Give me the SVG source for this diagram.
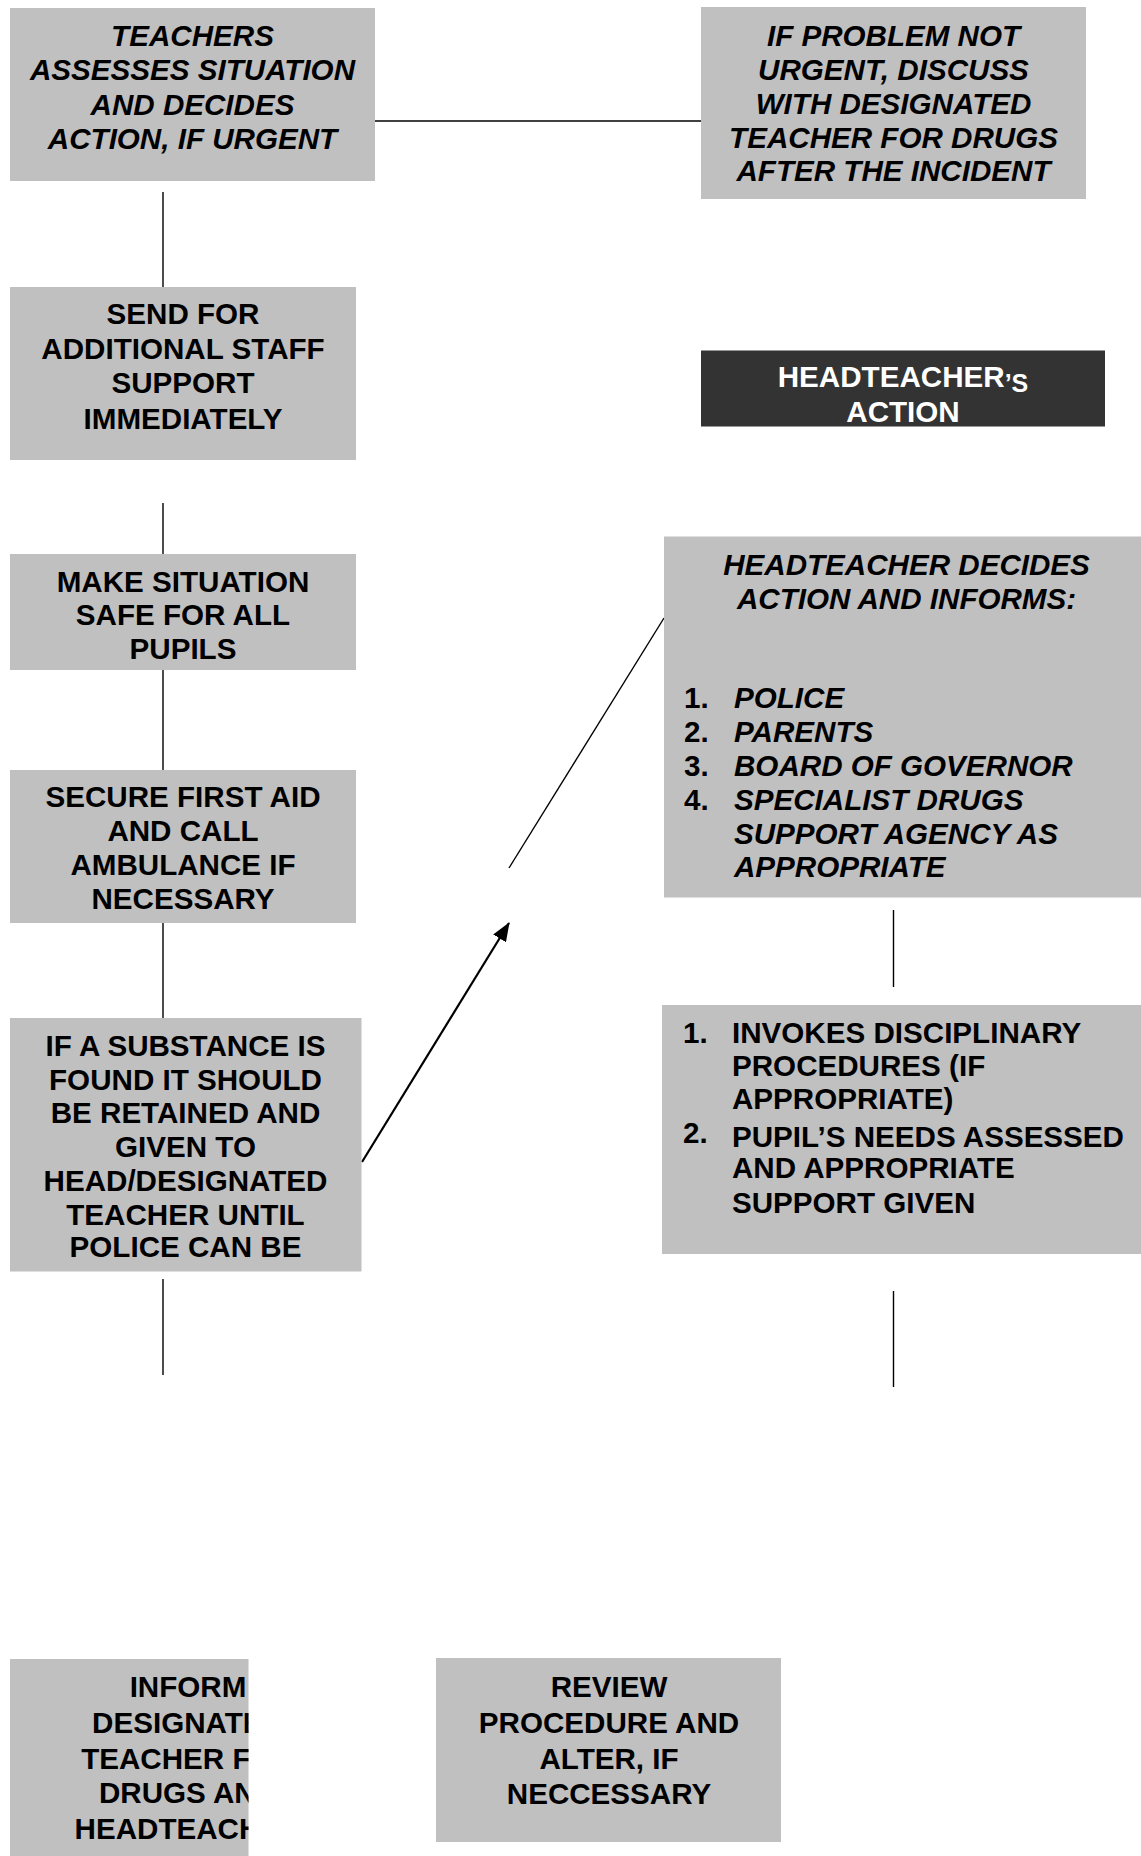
<svg xmlns="http://www.w3.org/2000/svg" width="1141" height="1856" viewBox="0 0 1141 1856">
<style>
.box{fill:#c0c0c0}
.dark{fill:#333333}
.t{font-family:"Liberation Sans",Arial,sans-serif;font-weight:bold;font-size:29.6px;fill:#000}
.i{font-style:italic}
.c{text-anchor:middle}
.w{fill:#fff}
.ln{stroke:#000;stroke-width:1.4;fill:none}
.ar{stroke:#000;stroke-width:2.2;fill:none}
</style>
<defs>
<marker id="ah" markerUnits="userSpaceOnUse" markerWidth="19" markerHeight="15" refX="18" refY="7.5" orient="auto">
<path d="M0,0 L19,7.5 L0,15 z" fill="#000"/>
</marker>
<clipPath id="clipInform"><rect x="10" y="1659" width="238.5" height="197"/></clipPath>
</defs>
<rect width="1141" height="1856" fill="#fff"/>

<g id="connectors">
<line class="ln" x1="375" y1="121" x2="701" y2="121"/>
<line class="ln" x1="163" y1="192" x2="163" y2="287"/>
<line class="ln" x1="163" y1="503" x2="163" y2="554"/>
<line class="ln" x1="163" y1="670" x2="163" y2="770"/>
<line class="ln" x1="163" y1="923" x2="163" y2="1018"/>
<line class="ln" x1="163" y1="1279" x2="163" y2="1375"/>
<line class="ar" x1="362" y1="1162" x2="509" y2="923" marker-end="url(#ah)"/>
<line class="ln" x1="509" y1="868" x2="664" y2="618"/>
<line class="ln" x1="893.5" y1="910" x2="893.5" y2="987"/>
<line class="ln" x1="893.5" y1="1291" x2="893.5" y2="1387"/>
</g>

<g id="n-teachers-assess">
<rect class="box" x="10" y="8" width="365" height="173"/>
<text class="t i c" x="192.5" y="45.5">TEACHERS</text>
<text class="t i c" x="192.5" y="80">ASSESSES SITUATION</text>
<text class="t i c" x="192.5" y="114.5">AND DECIDES</text>
<text class="t i c" x="192.5" y="149">ACTION, IF URGENT</text>
</g>

<g id="n-not-urgent">
<rect class="box" x="701" y="7" width="385" height="192"/>
<text class="t i c" x="893.5" y="45.5">IF PROBLEM NOT</text>
<text class="t i c" x="893.5" y="79.5">URGENT, DISCUSS</text>
<text class="t i c" x="893.5" y="113.5">WITH DESIGNATED</text>
<text class="t i c" x="893.5" y="147.5">TEACHER FOR DRUGS</text>
<text class="t i c" x="893.5" y="181">AFTER THE INCIDENT</text>
</g>

<g id="n-send-staff">
<rect class="box" x="10" y="287" width="346" height="173"/>
<text class="t c" x="183" y="324">SEND FOR</text>
<text class="t c" x="183" y="358.5">ADDITIONAL STAFF</text>
<text class="t c" x="183" y="392.5">SUPPORT</text>
<text class="t c" x="183" y="429">IMMEDIATELY</text>
</g>

<g id="n-headteacher-action">
<rect class="dark" x="701" y="350.5" width="404" height="76"/>
<text class="t w c" x="903" y="387">HEADTEACHER<tspan font-size="25" dy="5">’S</tspan></text>
<text class="t w c" x="903" y="422">ACTION</text>
</g>

<g id="n-make-safe">
<rect class="box" x="10" y="554" width="346" height="116"/>
<text class="t c" x="183" y="591.5">MAKE SITUATION</text>
<text class="t c" x="183" y="625">SAFE FOR ALL</text>
<text class="t c" x="183" y="659">PUPILS</text>
</g>

<g id="n-head-decides">
<rect class="box" x="664" y="536.5" width="477" height="361"/>
<text class="t i c" x="906.5" y="574.5">HEADTEACHER DECIDES</text>
<text class="t i c" x="906.5" y="609">ACTION AND INFORMS:</text>
<text class="t" x="684" y="708">1.</text>
<text class="t i" x="734" y="708">POLICE</text>
<text class="t" x="684" y="742">2.</text>
<text class="t i" x="734" y="742">PARENTS</text>
<text class="t" x="684" y="776">3.</text>
<text class="t i" x="734" y="776">BOARD OF GOVERNOR</text>
<text class="t" x="684" y="810">4.</text>
<text class="t i" x="734" y="810">SPECIALIST DRUGS</text>
<text class="t i" x="734" y="843.5">SUPPORT AGENCY AS</text>
<text class="t i" x="734" y="877">APPROPRIATE</text>
</g>

<g id="n-first-aid">
<rect class="box" x="10" y="770" width="346" height="153"/>
<text class="t c" x="183" y="807">SECURE FIRST AID</text>
<text class="t c" x="183" y="841">AND CALL</text>
<text class="t c" x="183" y="875">AMBULANCE IF</text>
<text class="t c" x="183" y="909">NECESSARY</text>
</g>

<g id="n-substance">
<rect class="box" x="10" y="1018" width="351.5" height="253.5"/>
<text class="t c" x="185.5" y="1056">IF A SUBSTANCE IS</text>
<text class="t c" x="185.5" y="1089.5">FOUND IT SHOULD</text>
<text class="t c" x="185.5" y="1123">BE RETAINED AND</text>
<text class="t c" x="185.5" y="1157">GIVEN TO</text>
<text class="t c" x="185.5" y="1191">HEAD/DESIGNATED</text>
<text class="t c" x="185.5" y="1224.5">TEACHER UNTIL</text>
<text class="t c" x="185.5" y="1257">POLICE CAN BE</text>
</g>

<g id="n-disciplinary">
<rect class="box" x="662" y="1005" width="479" height="249"/>
<text class="t" x="683" y="1042.5">1.</text>
<text class="t" x="732" y="1042.5">INVOKES DISCIPLINARY</text>
<text class="t" x="732" y="1075.5">PROCEDURES (IF</text>
<text class="t" x="732" y="1108.5">APPROPRIATE)</text>
<text class="t" x="683" y="1143">2.</text>
<text class="t" x="732" y="1147">PUPIL’S NEEDS ASSESSED</text>
<text class="t" x="732" y="1177.5">AND APPROPRIATE</text>
<text class="t" x="732" y="1213">SUPPORT GIVEN</text>
</g>

<g id="n-inform">
<rect class="box" x="10" y="1659" width="238.5" height="197"/>
<g clip-path="url(#clipInform)">
<text class="t c" x="188" y="1697">INFORM</text>
<text class="t c" x="188" y="1733">DESIGNATED</text>
<text class="t c" x="188" y="1768.5">TEACHER FOR</text>
<text class="t c" x="188" y="1803">DRUGS AND</text>
<text class="t c" x="188" y="1838.5">HEADTEACHER</text>
</g>
</g>

<g id="n-review">
<rect class="box" x="436" y="1658" width="345" height="184"/>
<text class="t c" x="609" y="1696.5">REVIEW</text>
<text class="t c" x="609" y="1733">PROCEDURE AND</text>
<text class="t c" x="609" y="1768.5">ALTER, IF</text>
<text class="t c" x="609" y="1804">NECCESSARY</text>
</g>
</svg>
